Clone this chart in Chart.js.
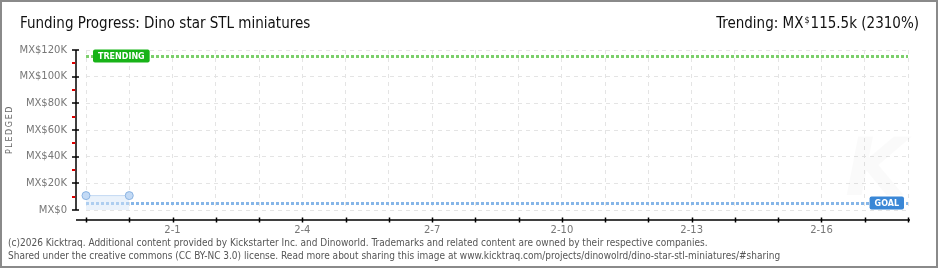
<!DOCTYPE html>
<html>
<head>
<meta charset="utf-8">
<script src="https://cdn.jsdelivr.net/npm/chart.js@4"></script>
<style>
  html, body { margin: 0; padding: 0; background: #fff; }
  #wrap { position: relative; width: 940px; height: 270px; overflow: hidden; }
  #frame { position: absolute; left: 0; top: 0; width: 938px; height: 268px; box-sizing: border-box; border: 2px solid #8a8a8a; }
  canvas { position: absolute; left: 0; top: 0; }
  .txt { position: absolute; white-space: nowrap; color: #111; }
  #title { left: 20px; top: 14px; font: 15px "Liberation Sans Narrow", "DejaVu Sans Condensed", sans-serif; }
  #trend { right: 21px; top: 14px; font: 15px "Liberation Sans Narrow", "DejaVu Sans Condensed", sans-serif; }
  #trend sup { font-size: 9px; vertical-align: 5px; margin: 0 1px; }
  #ylab { left: -15px; top: 125px; transform: rotate(-90deg); font: 8px "DejaVu Sans", sans-serif; letter-spacing: 1.6px; color: #666; }
  .foot { left: 8px; font: 10px "DejaVu Sans Condensed", sans-serif; color: #555; }
</style>
</head>
<body>
<div id="wrap">
  <canvas id="chart" width="940" height="270"></canvas>
  <div id="frame"></div>
  <div class="txt" id="title">Funding Progress: Dino star STL miniatures</div>
  <div class="txt" id="trend">Trending: MX<sup>$</sup>115.5k (2310%)</div>
  <div class="txt" id="ylab">PLEDGED</div>
  <div class="txt foot" style="top:237px">(c)2026 Kicktraq. Additional content provided by Kickstarter Inc. and Dinoworld. Trademarks and related content are owned by their respective companies.</div>
  <div class="txt foot" style="top:250px">Shared under the creative commons (CC BY-NC 3.0) license. Read more about sharing this image at www.kicktraq.com/projects/dinowolrd/dino-star-stl-miniatures/#sharing</div>
</div>
<script>
// one category per day, Jan 30 .. Feb 18
const days = ['1-30', '1-31', '2-1', '2-2', '2-3', '2-4', '2-5', '2-6', '2-7', '2-8',
              '2-9', '2-10', '2-11', '2-12', '2-13', '2-14', '2-15', '2-16', '2-17', '2-18'];
const shownDays = ['2-1', '2-4', '2-7', '2-10', '2-13', '2-16'];
const pledged = [10800, 10800];
const yTicks = [0, 20000, 40000, 60000, 80000, 100000, 120000];
const yMinorTicks = [10000, 30000, 50000, 70000, 90000, 110000];
const goalValue = 5000;
const trendingValue = 115500;

const ctx = document.getElementById('chart').getContext('2d');

function money(v) {
    return v === 0 ? 'MX$0' : 'MX$' + (v / 1000) + 'K';
}

// axis lines drawn a little away from the plot, like the original
const axesPlugin = {
    id: 'axes',
    afterDraw(chart) {
        const c = chart.ctx;
        const area = chart.chartArea;
        const x = chart.scales.x;
        const y = chart.scales.y;
        const ax = area.left - 10;
        const ay = area.bottom + 10;
        c.save();
        c.strokeStyle = '#000';
        c.lineWidth = 1.5;
        c.beginPath();
        c.moveTo(ax, y.getPixelForValue(120000));
        c.lineTo(ax, area.bottom);
        c.moveTo(ax, ay);
        c.lineTo(area.right + 2, ay);
        days.forEach((d, i) => {
            const px = Math.round(x.getPixelForValue(i)) + 0.5;
            c.moveTo(px, ay - 2.5);
            c.lineTo(px, ay + 2.5);
        });
        yTicks.forEach(v => {
            const py = Math.round(y.getPixelForValue(v));
            c.moveTo(ax - 4, py);
            c.lineTo(ax + 3, py);
        });
        c.stroke();
        c.strokeStyle = '#e00000';
        c.lineWidth = 2;
        c.beginPath();
        yMinorTicks.forEach(v => {
            const pm = Math.round(y.getPixelForValue(v));
            c.moveTo(ax - 4, pm);
            c.lineTo(ax - 0.75, pm);
        });
        c.stroke();
        c.restore();
    }
};

// goal and trending reference lines with their tags
const refPlugin = {
    id: 'refs',
    beforeDatasetsDraw(chart) {
        const c = chart.ctx;
        const area = chart.chartArea;
        const y = chart.scales.y;
        c.save();
        c.fillStyle = 'rgba(0,0,0,0.018)';
        c.font = 'italic bold 80px "DejaVu Sans", sans-serif';
        c.fillText('K', 845, 195);
        const refs = [
            { v: trendingValue, color: '#7ccf6c', tag: '#18b318', text: 'TRENDING', left: true },
            { v: goalValue, color: '#86b6e8', tag: '#3a87d6', text: 'GOAL', left: false }
        ];
        refs.forEach(r => {
            const py = Math.round(y.getPixelForValue(r.v)) + 0.5;
            c.strokeStyle = r.color;
            c.lineWidth = 3;
            c.setLineDash([3, 2]);
            c.beginPath();
            c.moveTo(area.left, py);
            c.lineTo(area.right, py);
            c.stroke();
            c.setLineDash([]);
            c.font = 'bold 8px "DejaVu Sans", sans-serif';
            const w = c.measureText(r.text).width + 10;
            const bx = r.left ? area.left + 7 : area.right - 4 - w;
            c.fillStyle = r.tag;
            c.beginPath();
            c.roundRect(bx, py - 7, w, 13, 2);
            c.fill();
            c.fillStyle = '#fff';
            c.textBaseline = 'middle';
            c.fillText(r.text, bx + 5, py);
        });
        c.restore();
    }
};

new Chart(ctx, {
    type: 'line',
    data: {
        labels: days,
        datasets: [{
            data: pledged,
            borderColor: '#c4daf3',
            borderWidth: 1,
            backgroundColor: 'rgba(214,230,248,0.5)',
            fill: 'origin',
            pointRadius: 4,
            pointBackgroundColor: '#c3daf5',
            pointBorderColor: '#8ab3e2',
            pointBorderWidth: 1,
            tension: 0
        }]
    },
    options: {
        responsive: false,
        animation: false,
        layout: { padding: { left: 0, right: 32, top: 50, bottom: 30 } },
        plugins: { legend: { display: false }, tooltip: { enabled: false } },
        scales: {
            x: {
                offset: false,
                afterFit: s => { s.height = 30; },
                grid: { color: '#e4e4e4', drawTicks: false, lineWidth: 1 },
                border: { display: false, dash: [4, 4] },
                ticks: {
                    autoSkip: false,
                    maxRotation: 0,
                    padding: 14,
                    color: '#777',
                    font: { family: 'DejaVu Sans', size: 10 },
                    callback: function (v) {
                        const d = days[v];
                        return shownDays.includes(d) ? d : '';
                    }
                }
            },
            y: {
                min: 0,
                max: 120000,
                afterFit: s => { s.width = 86; },
                afterBuildTicks: s => { s.ticks = yTicks.map(v => ({ value: v })); },
                grid: { color: '#e4e4e4', drawTicks: false, lineWidth: 1 },
                border: { display: false, dash: [4, 4] },
                ticks: {
                    padding: 19,
                    color: '#777',
                    font: { family: 'DejaVu Sans', size: 10 },
                    callback: v => money(v)
                }
            }
        }
    },
    plugins: [refPlugin, axesPlugin]
});
</script>
</body>
</html>
